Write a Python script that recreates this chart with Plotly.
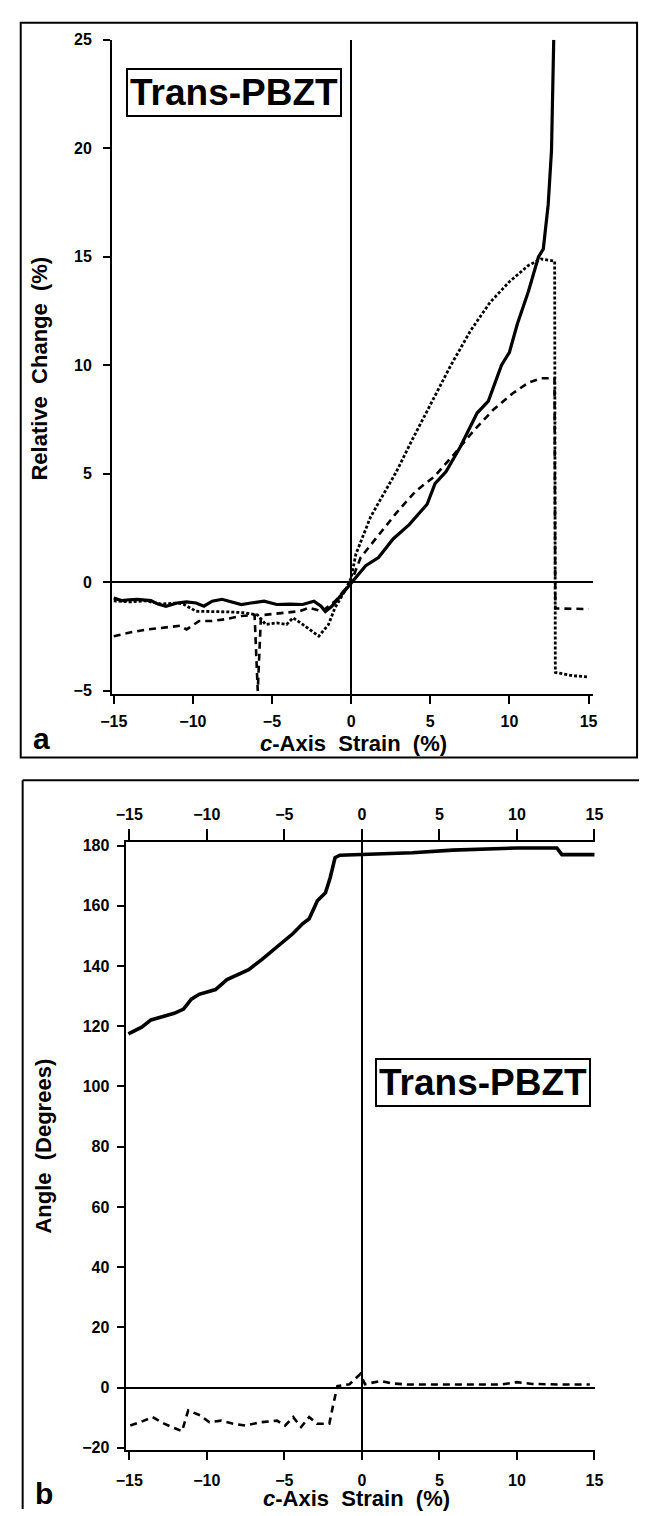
import plotly.graph_objects as go

W, H = 647, 1516

# ---------------- Panel a data (c-axis strain %, relative change %) ----------------
a_solid_x = [-15.0, -14.5, -14.0, -13.5, -12.65, -12.2, -11.7, -11.0, -10.4, -9.8, -9.3, -8.78, -8.16,
             -7.55, -6.94, -6.33, -5.5, -4.7, -3.88, -3.06, -2.35, -1.9, -1.63, -1.22, -0.6, 0.0,
             0.92, 1.73, 2.65, 3.67, 4.8, 5.3, 6.0, 6.9, 7.96, 8.67, 9.5, 10.0, 10.5, 11.2,
             11.84, 12.14, 12.45, 12.66, 12.76, 12.8]
a_solid_y = [-0.72, -0.84, -0.8, -0.78, -0.84, -1.0, -1.1, -0.95, -0.9, -0.95, -1.1, -0.87, -0.78,
             -0.9, -1.02, -0.95, -0.87, -1.02, -1.0, -1.02, -0.87, -1.1, -1.34, -1.1, -0.56, 0.0,
             0.77, 1.14, 2.0, 2.66, 3.6, 4.55, 5.1, 6.25, 7.8, 8.35, 10.0, 10.6, 11.9, 13.4,
             15.0, 15.35, 17.4, 19.9, 22.7, 25.0]

a_dot_x = [-15.0, -14.0, -13.0, -12.0, -11.0, -10.6, -9.8, -8.78, -7.76, -6.74, -5.92, -5.4, -4.7,
           -4.08, -3.67, -3.06, -2.45, -2.04, -1.43, -1.02, -0.41, 0.0, 0.3, 1.22, 1.84, 2.86,
           3.88, 5.1, 6.3, 7.55, 8.78, 10.0, 11.2, 12.0, 12.8, 12.86, 12.9, 14.0, 14.9]
a_dot_y = [-0.85, -0.9, -0.85, -1.0, -0.95, -1.0, -1.33, -1.33, -1.36, -1.4, -1.5, -1.94, -1.87,
           -1.94, -1.63, -1.94, -2.25, -2.48, -1.94, -1.17, -0.41, 0.2, 1.3, 3.0, 3.8, 5.1,
           6.6, 8.35, 10.0, 11.6, 12.9, 13.85, 14.6, 14.9, 14.8, 14.8, -4.15, -4.3, -4.35]

a_dash_x = [-15.0, -13.9, -12.86, -11.84, -10.8, -10.4, -9.6, -8.78, -7.96, -6.94, -6.33, -6.1,
            -5.9, -5.7, -5.5, -4.3, -3.27, -2.65, -1.84, -1.02, 0.0, 0.6, 1.63, 2.86, 4.08,
            5.3, 6.5, 7.76, 8.98, 10.2, 11.2, 12.0, 12.55, 12.85, 12.9, 14.0, 15.0]
a_dash_y = [-2.48, -2.3, -2.17, -2.09, -2.0, -2.17, -1.78, -1.78, -1.7, -1.55, -1.5, -1.5,
            -5.0, -1.6, -1.5, -1.4, -1.33, -1.17, -1.33, -0.87, 0.0, 1.14, 2.1, 3.2, 4.2,
            4.9, 5.9, 7.0, 7.95, 8.7, 9.2, 9.4, 9.4, 9.4, -1.2, -1.23, -1.23]

# ---------------- Panel b data (c-axis strain %, angle in degrees) ----------------
b_solid_x = [-15.06, -14.2, -13.6, -12.9, -12.1, -11.5, -11.0, -10.5, -9.44, -8.7, -7.3, -6.46,
             -5.42, -4.44, -3.81, -3.4, -2.87, -2.35, -2.04, -1.73, -1.42, 0.0, 3.25, 5.85,
             8.4, 10.0, 12.57, 12.9, 15.0]
b_solid_y = [117.5, 119.7, 122.1, 123.0, 124.3, 125.7, 129.0, 130.6, 132.2, 135.5, 138.8, 142.1,
             146.4, 150.8, 154.1, 155.7, 161.7, 164.3, 169.4, 176.0, 176.8, 177.0, 177.6, 178.5,
             178.9, 179.2, 179.2, 177.0, 177.0]

b_dash_x = [-14.94, -14.3, -13.5, -12.75, -11.98, -11.6, -11.2, -10.4, -9.84, -9.07, -8.3, -7.52,
            -6.5, -5.47, -4.95, -4.43, -3.92, -3.4, -2.9, -2.1, -1.84, -1.58, -0.8, -0.1, 0.2,
            1.2, 1.9, 3.0, 5.0, 7.0, 9.0, 10.0, 11.0, 13.0, 14.7]
b_dash_y = [-12.6, -11.5, -9.8, -12.0, -13.7, -14.5, -7.6, -9.3, -11.5, -11.0, -12.0, -12.6,
            -11.5, -11.0, -12.6, -9.8, -13.1, -9.8, -12.0, -12.0, -5.5, 0.5, 1.1, 4.5, 1.1,
            2.2, 1.4, 1.0, 1.0, 1.0, 1.0, 1.8, 1.2, 1.0, 1.0]

x_ticks = [-15, -10, -5, 0, 5, 10, 15]
a_y_ticks = [-5, 0, 5, 10, 15, 20, 25]
b_y_ticks = [-20, 0, 20, 40, 60, 80, 100, 120, 140, 160, 180]

panel_label = "Trans-PBZT"
x_title = "<i>c</i>-Axis\u00a0\u00a0Strain\u00a0\u00a0(%)"
a_y_title = "Relative\u00a0\u00a0Change\u00a0\u00a0(%)"
b_y_title = "Angle\u00a0\u00a0(Degrees)"

FONT = "Liberation Sans"


def px(x):
    return x / W


def py(y):
    return 1 - y / H


fig = go.Figure()
black = "black"
dot_style = "3px,2px"
dash_style = "7px,5px"

fig.add_trace(go.Scatter(x=a_dash_x, y=a_dash_y, mode="lines", xaxis="x", yaxis="y",
                         line=dict(color=black, width=2.6, dash=dash_style)))
fig.add_trace(go.Scatter(x=a_dot_x, y=a_dot_y, mode="lines", xaxis="x", yaxis="y",
                         line=dict(color=black, width=2.8, dash=dot_style)))
fig.add_trace(go.Scatter(x=a_solid_x, y=a_solid_y, mode="lines", xaxis="x", yaxis="y",
                         line=dict(color=black, width=3.2)))

fig.add_trace(go.Scatter(x=b_dash_x, y=b_dash_y, mode="lines", xaxis="x2", yaxis="y2",
                         line=dict(color=black, width=2.6, dash=dash_style)))
fig.add_trace(go.Scatter(x=b_solid_x, y=b_solid_y, mode="lines", xaxis="x2", yaxis="y2",
                         line=dict(color=black, width=3.6)))

tickfont = dict(family=FONT, size=16, color=black, weight="bold")

common_x = dict(tickmode="array", tickvals=x_ticks, showgrid=False, showline=True,
                linecolor=black, ticks="outside", tickcolor=black, tickwidth=1.5,
                tickfont=tickfont, zeroline=True, zerolinecolor=black, zerolinewidth=1.5)

fig.update_layout(
    width=W, height=H, margin=dict(l=0, r=0, t=0, b=0), autosize=False,
    paper_bgcolor="white", plot_bgcolor="white", showlegend=False,
    xaxis=dict(domain=[px(103), px(600)], range=[-15.12, 15.31], anchor="y",
               linewidth=2, ticklen=8, ticklabelstandoff=4, **common_x),
    yaxis=dict(domain=[py(693), py(32)], range=[-5.15, 25], anchor="x",
               tickmode="array", tickvals=a_y_ticks, showgrid=False, showline=True,
               linecolor=black, linewidth=1.5, ticks="outside", ticklen=7, tickwidth=1.5,
               tickcolor=black, tickfont=tickfont, zeroline=True, zerolinecolor=black,
               zerolinewidth=1.5, ticklabelstandoff=8),
    xaxis2=dict(domain=[px(118), px(602)], range=[-15.19, 15.06], anchor="y2",
                linewidth=2, ticklen=8, ticklabelstandoff=7, **common_x),
    xaxis3=dict(domain=[px(118), px(602)], range=[-15.19, 15.06], anchor="y2",
                overlaying="x2", side="top", tickmode="array", tickvals=x_ticks,
                showgrid=False, showline=True, linecolor=black, linewidth=2,
                ticks="outside", ticklen=11, tickwidth=1.5, tickcolor=black,
                tickfont=tickfont, zeroline=False, ticklabelstandoff=2),
    yaxis2=dict(domain=[py(1456), py(842)], range=[-20.6, 181.3], anchor="x2",
                tickmode="array", tickvals=b_y_ticks, showgrid=False, showline=True,
                linecolor=black, linewidth=1.5, ticks="outside", ticklen=8, tickwidth=1.5,
                tickcolor=black, tickfont=tickfont, zeroline=True, zerolinecolor=black,
                zerolinewidth=1.5, ticklabelstandoff=4),
)

# dummy trace to activate top axis
fig.add_trace(go.Scatter(x=[0], y=[None], xaxis="x3", yaxis="y2", mode="lines",
                         hoverinfo="skip", showlegend=False))

shapes = [
    dict(type="rect", xref="paper", yref="paper", x0=px(9), x1=px(645), y0=py(757), y1=py(15),
         line=dict(color=black, width=2)),
    dict(type="line", xref="paper", yref="paper", x0=px(11), x1=1.0, y0=py(780), y1=py(780),
         line=dict(color=black, width=2)),
    dict(type="line", xref="paper", yref="paper", x0=px(11), x1=px(11), y0=py(780), y1=0,
         line=dict(color=black, width=2)),
]
fig.update_layout(shapes=shapes)

title_font = dict(family=FONT, size=22, color=black, weight="bold")
annotations = [
    dict(text=panel_label, xref="paper", yref="paper", x=px(229), y=py(85), xanchor="center",
         yanchor="middle", showarrow=False, bordercolor=black, borderwidth=2, borderpad=2,
         bgcolor="white", font=dict(family=FONT, size=37, color=black, weight="bold")),
    dict(text=panel_label, xref="paper", yref="paper", x=px(486), y=py(1085), xanchor="center",
         yanchor="middle", showarrow=False, bordercolor=black, borderwidth=2, borderpad=2,
         bgcolor="white", font=dict(family=FONT, size=37, color=black, weight="bold")),
    dict(text=x_title, xref="paper", yref="paper", x=px(352), y=py(743), xanchor="center",
         yanchor="middle", showarrow=False, font=title_font),
    dict(text=x_title, xref="paper", yref="paper", x=px(356), y=py(1505), xanchor="center",
         yanchor="middle", showarrow=False, font=title_font),
    dict(text=a_y_title, xref="paper", yref="paper", x=px(28), y=py(364), xanchor="center",
         yanchor="middle", showarrow=False, textangle=-90, font=title_font),
    dict(text=b_y_title, xref="paper", yref="paper", x=px(33), y=py(1149), xanchor="center",
         yanchor="middle", showarrow=False, textangle=-90, font=title_font),
    dict(text="a", xref="paper", yref="paper", x=px(30), y=py(738), xanchor="center",
         yanchor="middle", showarrow=False,
         font=dict(family=FONT, size=30, color=black, weight="bold")),
    dict(text="b", xref="paper", yref="paper", x=px(33), y=py(1500), xanchor="center",
         yanchor="middle", showarrow=False,
         font=dict(family=FONT, size=30, color=black, weight="bold")),
]
fig.update_layout(annotations=annotations)

fig.write_html("out.html")
